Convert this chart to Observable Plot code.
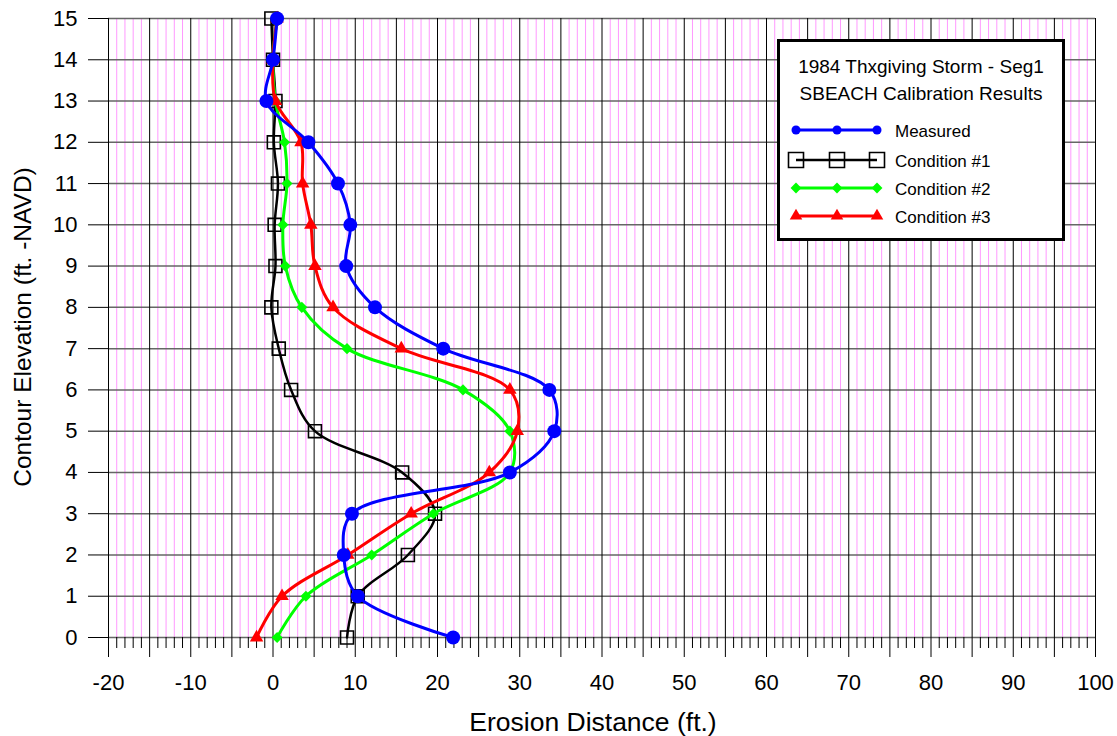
<!DOCTYPE html>
<html><head><meta charset="utf-8">
<script src="https://cdn.jsdelivr.net/npm/d3@7"></script>
<script src="https://cdn.jsdelivr.net/npm/@observablehq/plot@0.6"></script>
<style>body{margin:0;background:#fff;} #chart{position:relative;width:1117px;height:736px;}</style>
</head><body><div id="chart"></div>
<script>
// ---- data ----
const elevations = [15,14,13,12,11,10,9,8,7,6,5,4,3,2,1,0];
const measured   = [0.5,0.0,-0.8,4.3,7.9,9.4,8.9,12.4,20.7,33.6,34.2,28.8,9.6,8.6,10.3,21.9];
const condition1 = [-0.2,0.0,0.3,0.1,0.6,0.2,0.3,-0.2,0.7,2.2,5.1,15.7,19.7,16.4,10.3,9.0];
const condition2 = [0.5,0.0,0.3,1.4,1.7,1.2,1.5,3.5,9.0,23.1,28.8,28.8,19.5,12.0,4.0,0.5];
const condition3 = [0.5,0.0,0.3,3.4,3.6,4.6,5.1,7.3,15.6,28.8,29.7,26.3,16.8,9.1,1.1,-2.0];
const seriesNames = ["Measured","Condition #1","Condition #2","Condition #3"];
const legendTitle = ["1984 Thxgiving Storm - Seg1","SBEACH Calibration Results"];
const xTitle = "Erosion Distance (ft.)";
const yTitle = "Contour Elevation (ft. -NAVD)";
const xMajorTicks = d3.range(-20, 101, 5);
const xMinorTicks = d3.range(-20, 101, 1).filter(d => d % 5 !== 0);
const yTicks = d3.range(0, 16, 1);

const toRows = (vals, name) => vals.map((x, i) => ({series: name, x, y: elevations[i]}));
const dM = toRows(measured, seriesNames[0]);
const d1 = toRows(condition1, seriesNames[1]);
const d2 = toRows(condition2, seriesNames[2]);
const d3s = toRows(condition3, seriesNames[3]);

const styles = [
  {color:"#0000ff", symbol:"circle", r:7, width:3, fill:true, lsize:64},
  {color:"#000000", symbol:"square", r:7.3, width:2.5, fill:false, lsize:225},
  {color:"#00ff00", symbol:"diamond2", r:5, width:3, fill:true, lsize:75},
  {color:"#ff0000", symbol:"triangle", r:5, width:3, fill:true, lsize:68}
];

function seriesMarks(data, s) {
  return [
    Plot.line(data, {x:"x", y:"y", stroke:s.color, strokeWidth:s.width, curve:"catmull-rom"}),
    Plot.dot(data, {x:"x", y:"y", symbol:s.symbol, r:s.r,
      fill: s.fill ? s.color : "none", stroke: s.color, strokeWidth: s.fill ? 0 : 1.6})
  ];
}

const chart = Plot.plot({
  width:1117, height:736,
  marginLeft:108, marginRight:22, marginTop:18, marginBottom:99,
  style:{fontFamily:"'Liberation Sans', Arial, sans-serif", background:"white", color:"black"},
  x:{domain:[-20,100]},
  y:{domain:[0,15]},
  marks:[
    Plot.ruleX(xMinorTicks, {stroke:"#ff99ff", strokeWidth:1}),
    Plot.ruleY(yTicks, {stroke:"#666", strokeWidth:1.5}),
    Plot.ruleX(xMajorTicks, {stroke:"#000", strokeWidth:1}),
    Plot.axisX({ticks:xMinorTicks, tickSize:11, tickFormat:() => "", label:null, stroke:"#000"}),
    Plot.axisX({ticks:xMajorTicks, tickSize:20, tickPadding:17, fontSize:22, label:null,
      tickFormat: d => d % 10 === 0 ? String(d) : ""}),
    Plot.axisY({ticks:yTicks, tickSize:20, tickPadding:11, fontSize:22, label:null,
      tickFormat: d => String(d)}),
    ...seriesMarks(d1, styles[1]),
    ...seriesMarks(d2, styles[2]),
    ...seriesMarks(d3s, styles[3]),
    ...seriesMarks(dM, styles[0])
  ]
});
document.getElementById("chart").appendChild(chart);

// ---- titles & legend ----
const svg = d3.select(chart);
const font = "'Liberation Sans', Arial, sans-serif";
svg.append("text").attr("x", 593).attr("y", 731).attr("text-anchor","middle")
  .attr("font-family", font).attr("font-size", 26.5).attr("fill","black").text(xTitle);
svg.append("text").attr("transform","translate(31,327) rotate(-90)").attr("text-anchor","middle")
  .attr("font-family", font).attr("font-size", 24.5).attr("fill","black").text(yTitle);

const lg = svg.append("g");
lg.append("rect").attr("x",778.5).attr("y",40.5).attr("width",285).attr("height",199)
  .attr("fill","white").attr("stroke","black").attr("stroke-width",3);
legendTitle.forEach((t,i) => {
  lg.append("text").attr("x",921).attr("y",73 + i*27).attr("text-anchor","middle")
    .attr("font-family",font).attr("font-size",19).attr("fill","black").text(t);
});
const rowsY = [130, 160, 188, 216];
const symX = [796, 837, 877];
const symMap = {circle:d3.symbolCircle, square:d3.symbolSquare, diamond2:d3.symbolDiamond2, triangle:d3.symbolTriangle};
seriesNames.forEach((name, i) => {
  const s = styles[i];
  const y = rowsY[i];
  lg.append("line").attr("x1",symX[0]).attr("x2",symX[2]).attr("y1",y).attr("y2",y)
    .attr("stroke",s.color).attr("stroke-width",s.width);
  symX.forEach(x => {
    lg.append("path").attr("d", d3.symbol(symMap[s.symbol], s.lsize)())
      .attr("transform", `translate(${x},${y})`)
      .attr("fill", s.fill ? s.color : "none").attr("stroke", s.fill ? "none" : s.color)
      .attr("stroke-width", 1.6);
  });
  lg.append("text").attr("x",895).attr("y",y+7).attr("text-anchor","start")
    .attr("font-family",font).attr("font-size",17).attr("fill","black").text(name);
});
</script>
</body></html>
